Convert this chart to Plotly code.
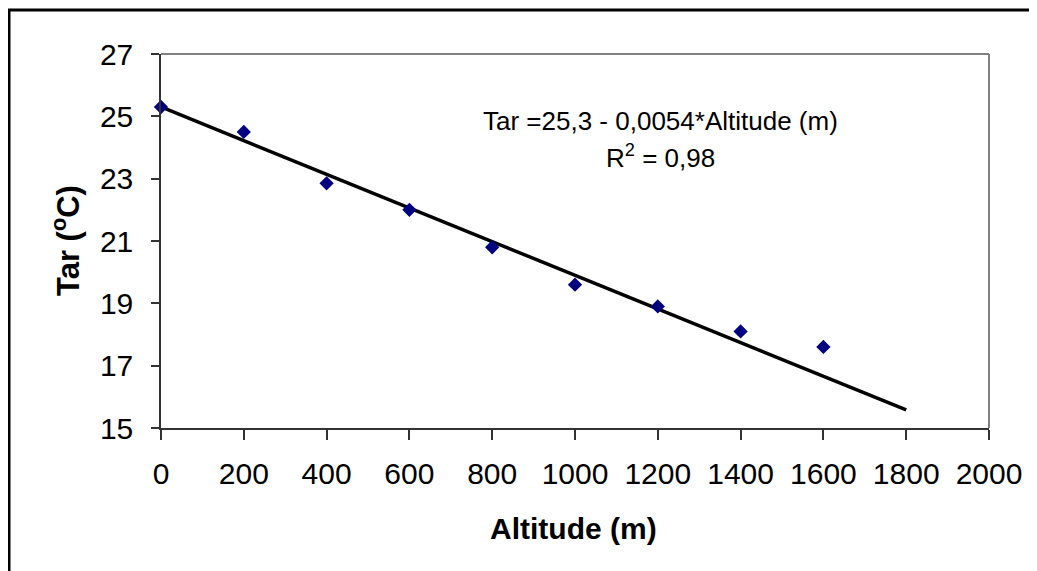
import plotly.graph_objects as go

altitude = [0, 200, 400, 600, 800, 1000, 1200, 1400, 1600]
tar = [25.3, 24.5, 22.85, 22.0, 20.8, 19.6, 18.9, 18.1, 17.6]
fit_x = [0, 1800]
intercept = 25.3
slope = -0.0054
fit_y = [intercept + slope * x for x in fit_x]
x_ticks = list(range(0, 2001, 200))
y_ticks = list(range(15, 28, 2))

FONT = "Liberation Sans, Arial, sans-serif"
OFF = 8  # default page body margin

# plot area in target pixels: left 161, right 989, top 54, bottom 428
PL, PR, PT, PB = 161, 989, 54, 428
PW, PH = PR - PL, PB - PT


def px(x):
    return (x - PL) / PW


def py(y):
    return (PB - y) / PH


fig = go.Figure()
fig.add_trace(go.Scatter(x=fit_x, y=fit_y, mode="lines",
                         line=dict(color="black", width=3.5), showlegend=False,
                         cliponaxis=False))
fig.add_trace(go.Scatter(x=altitude, y=tar, mode="markers",
                         marker=dict(symbol="diamond", color="#000080", size=11),
                         showlegend=False, cliponaxis=False))

fig.update_layout(
    width=1037 - OFF, height=571 - OFF,
    margin=dict(l=PL - OFF, r=1037 - PR, t=PT - OFF, b=571 - PB, autoexpand=False),
    paper_bgcolor="white", plot_bgcolor="white",
    font=dict(family=FONT, color="black"),
    xaxis=dict(range=[0, 2000], tickvals=x_ticks, showgrid=False, zeroline=False,
               showline=True, linecolor="#333333", linewidth=1.5,
               ticks="outside", ticklen=10, tickcolor="#333333", tickwidth=1.5,
               tickfont=dict(size=30, family=FONT), ticklabelstandoff=8),
    yaxis=dict(range=[15, 27], tickvals=y_ticks, showgrid=False, zeroline=False,
               showline=True, linecolor="#333333", linewidth=1.5,
               ticks="outside", ticklen=8, tickcolor="#333333", tickwidth=1.5,
               tickfont=dict(size=30, family=FONT), ticklabelstandoff=12),
    shapes=[
        dict(type="line", xref="paper", yref="paper", x0=0, x1=1, y0=1, y1=1,
             line=dict(color="#808080", width=2)),
        dict(type="line", xref="paper", yref="paper", x0=1, x1=1, y0=0, y1=1,
             line=dict(color="#808080", width=2)),
        dict(type="rect", xref="paper", yref="paper",
             x0=px(9), x1=1.2, y0=-0.6, y1=py(10),
             line=dict(color="black", width=3)),
    ],
    annotations=[
        dict(text="Tar =25,3 - 0,0054*Altitude (m)", x=px(660), y=py(121),
             xref="paper", yref="paper", showarrow=False, font=dict(size=26, family=FONT),
             xanchor="center", yanchor="middle"),
        dict(text="R<sup>2</sup> = 0,98", x=px(660), y=py(156),
             xref="paper", yref="paper", showarrow=False, font=dict(size=26, family=FONT),
             xanchor="center", yanchor="middle"),
        dict(text="<b>Altitude (m)</b>", x=px(573), y=py(528),
             xref="paper", yref="paper", showarrow=False, font=dict(size=30, family=FONT),
             xanchor="center", yanchor="middle"),
        dict(text="<b>Tar (<sup>o</sup>C)</b>", x=px(66), y=py(241),
             xref="paper", yref="paper", showarrow=False, font=dict(size=31, family=FONT),
             xanchor="center", yanchor="middle", textangle=-90),
    ],
)

fig.write_html("out.html")
